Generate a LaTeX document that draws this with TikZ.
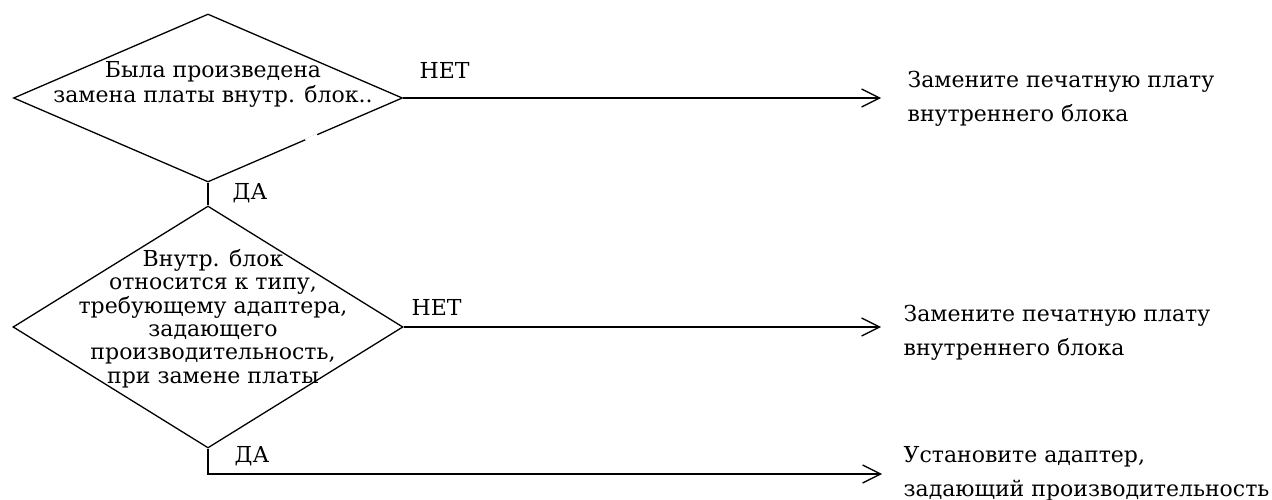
\documentclass[tikz,border=0pt]{standalone}
\usepackage{fontspec}
\setmainfont{DejaVu Serif}
\usetikzlibrary{shapes.geometric,arrows.meta,calc}
\begin{document}
\begin{tikzpicture}[x=1pt,y=-1pt,
  line width=1.3pt,
  decision/.style={draw,shape=diamond,inner sep=0pt,minimum width=#1},
  dtext/.style={inner sep=0pt,align=center,font=\fontsize{22}{#1}\selectfont},
  rtext/.style={inner sep=0pt,align=left,anchor=west,font=\fontsize{22}{34}\selectfont},
  lbl/.style={inner sep=0pt,font=\fontsize{22}{25}\selectfont},
  arr/.style={-{Straight Barb[length=18pt,width=18pt,line width=1.3pt]}}]
\useasboundingbox (0,0) rectangle (1272,500);
\fill[white] (0,0) rectangle (1272,500);

% decisions
\node[decision=389pt,minimum height=168pt] (d1) at (208,98) {};
\node[decision=390pt,minimum height=242pt] (d2) at (208,327) {};

% white gap on the lower-right edge of the first diamond
\draw[white,line width=3pt] ($(d1.east)!0.44!(d1.south)$) -- ($(d1.east)!0.50!(d1.south)$);

% texts inside decisions
\node[dtext=25pt] (q1) at (213,84.5) {Была произведена\\замена платы внутр. блок..};
\node[dtext=23.4pt] (q2) at (213,318.5) {Внутр. блок\\относится к типу,\\требующему адаптера,\\задающего\\производительность,\\при замене платы};

% result texts
\node[rtext] (t1) at (907,98.5) {Замените печатную плату\\внутреннего блока};
\node[rtext] (t2) at (903,333) {Замените печатную плату\\внутреннего блока};
\node[rtext] (t3) at (903,474) {Установите адаптер,\\задающий производительность};

% connectors
\draw (d1.south) -- (d2.north);
\draw[arr,shorten >=26pt] (d1.east) -- (d1.east -| t1.west);
\draw[arr,shorten >=22pt] (d2.east) -- (d2.east -| t2.west);
\draw[arr,shorten >=21pt] (d2.south) |- (t3.west);

% labels
\node[lbl,anchor=west] (n1) at (419,70) {НЕТ};
\node[lbl,anchor=west] (y1) at (232,193) {ДА};
\node[lbl,anchor=west] (n2) at (411,307) {НЕТ};
\node[lbl,anchor=west] (y2) at (234,456) {ДА};
\end{tikzpicture}
\end{document}
